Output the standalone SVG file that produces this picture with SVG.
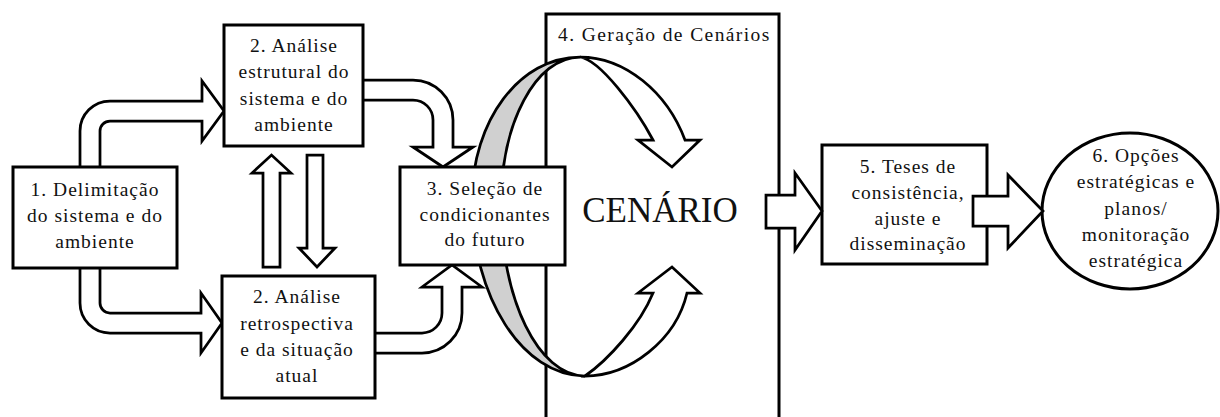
<svg xmlns="http://www.w3.org/2000/svg" width="1220" height="417" viewBox="0 0 1220 417">
<style>
.box{fill:#fff;stroke:#000;stroke-width:3}
.arr{fill:#fff;stroke:#000;stroke-width:2.75;stroke-linejoin:miter;stroke-miterlimit:10}
.grey{fill:#d0d0d0;stroke:#000;stroke-width:2.75}
.t{font-family:"Liberation Serif","Times New Roman",serif;font-size:19.5px;letter-spacing:1px;fill:#111;text-anchor:middle}
.big{font-family:"Liberation Serif","Times New Roman",serif;font-size:35px;fill:#111;text-anchor:middle}
</style>
<rect width="1220" height="417" fill="#fff"/>
<g id="node4">
<rect class="box" x="546" y="14" width="233" height="420"/>
<text class="t" x="558" y="40.7" style="text-anchor:start;letter-spacing:1.4px">4. Geração de Cenários</text>
<text class="big" x="660" y="222">CENÁRIO</text>
</g>
<g id="node5">
<rect class="box" x="822" y="145" width="165" height="119"/>
<text class="t" x="908" y="173">5. Teses de</text>
<text class="t" x="908" y="199">consistência,</text>
<text class="t" x="908" y="224.5">ajuste e</text>
<text class="t" x="908" y="250">disseminação</text>
</g>
<g id="node6">
<ellipse class="box" cx="1130" cy="211" rx="88" ry="78"/>
<text class="t" x="1136" y="162">6. Opções</text>
<text class="t" x="1136" y="188.3">estratégicas e</text>
<text class="t" x="1136" y="214.6">planos/</text>
<text class="t" x="1136" y="241">monitoração</text>
<text class="t" x="1136" y="267">estratégica</text>
</g>
<g id="connectors">
<path class="arr" d="M80,170 L80,131 A30,30 0 0 1 110,101 L202,101 L202,81 L224,111 L202,141 L202,121 L110,121 A10,10 0 0 0 100,131 L100,170 Z"/>
<path class="arr" d="M80,265 L80,303 A30,30 0 0 0 110,333 L201,333 L201,353 L222,323 L201,293 L201,313 L110,313 A10,10 0 0 1 100,303 L100,265 Z"/>
<path class="arr" d="M360,80 L413,80 A40,40 0 0 1 453,120 L453,147 L473,147 L443,167 L413,147 L433,147 L433,120 A20,20 0 0 0 413,100 L360,100 Z"/>
<path class="arr" d="M372,333 L422,333 A20,20 0 0 0 442,313 L442,287 L422,287 L452,265 L482,287 L462,287 L462,313 A40,40 0 0 1 422,353 L372,353 Z"/>
<path class="arr" d="M263,267 L263,173 L252,173 L271.5,155 L291,173 L280,173 L280,267 Z"/>
<path class="arr" d="M307,155 L323,155 L323,248 L335,248 L317,267 L299,248 L307,248 Z"/>
<path class="arr" d="M766,195 L795,195 L795,173 L822,211 L795,250 L795,228 L766,228 Z"/>
<path class="arr" d="M973,196 L1008,196 L1008,175 L1043,211 L1008,248 L1008,226 L973,226 Z"/>
</g>
<g id="cenario-ring">
<path class="grey" d="M580,57 C519.5,57 472,121 472,200 C472,297 522.6,376 585,376 C538.6,376 501,299.4 501,205 C501,123.3 535.5,57 580,57 Z"/>
<path class="arr" d="M580,57 C625,57 667,92 685,140 L700,140 L672,167 L638,140 L653,140 C636,108 600,60 580,57 Z"/>
<path class="arr" d="M585,376 C630,376 676,340 687,293 L700,293 L672,267 L638,293 L653,293 C640,325 608,360 585,376 Z"/>
</g>
<g id="node3">
<rect class="box" x="400" y="167" width="165" height="98"/>
<text class="t" x="485" y="194.5">3. Seleção de</text>
<text class="t" x="485" y="220.5">condicionantes</text>
<text class="t" x="485" y="246">do futuro</text>
</g>
<g id="node1">
<rect class="box" x="13" y="167" width="164" height="101"/>
<text class="t" x="95" y="195.5">1. Delimitação</text>
<text class="t" x="95" y="221.5">do sistema e do</text>
<text class="t" x="95" y="247.5">ambiente</text>
</g>
<g id="node2a">
<rect class="box" x="224" y="25" width="139" height="121"/>
<text class="t" x="294" y="51.7">2. Análise</text>
<text class="t" x="294" y="78.3">estrutural do</text>
<text class="t" x="294" y="105">sistema e do</text>
<text class="t" x="294" y="130.7">ambiente</text>
</g>
<g id="node2b">
<rect class="box" x="222" y="276" width="153" height="122"/>
<text class="t" x="297" y="303">2. Análise</text>
<text class="t" x="297" y="329.5">retrospectiva</text>
<text class="t" x="297" y="355.5">e da situação</text>
<text class="t" x="297" y="381.5">atual</text>
</g>
</svg>
